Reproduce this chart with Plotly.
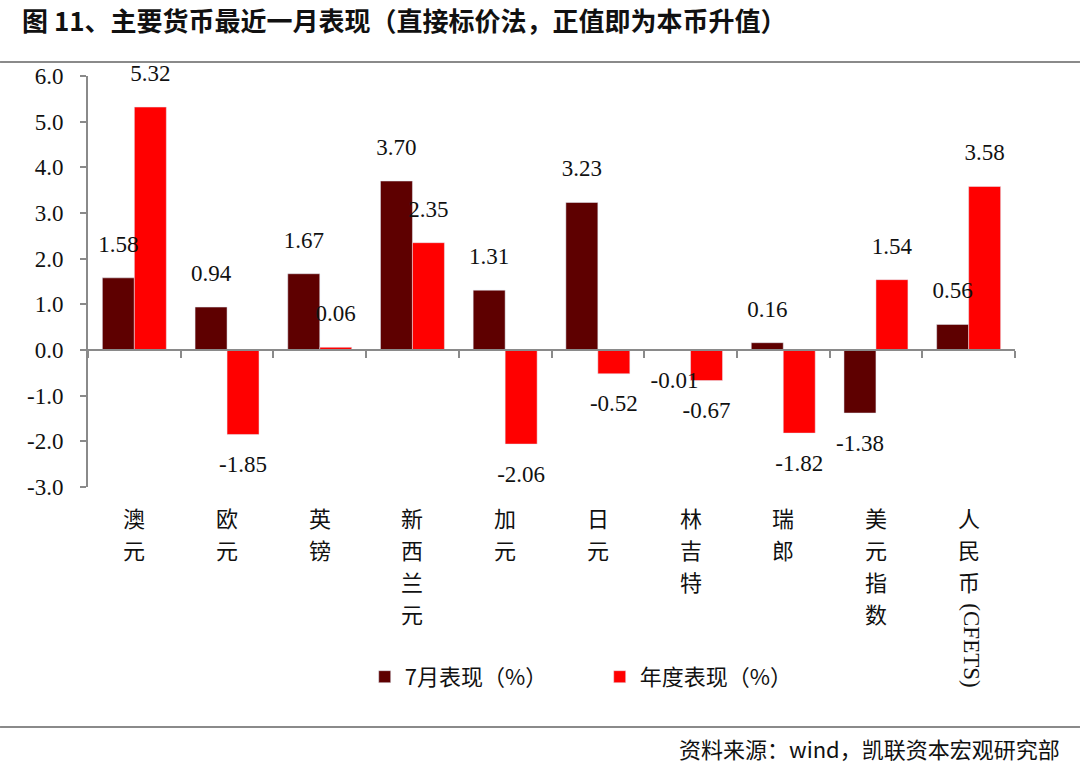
import plotly.graph_objects as go

categories = ["澳元", "欧元", "英镑", "新西兰元", "加元", "日元", "林吉特", "瑞郎", "美元指数", "人民币"]
july_perf = [1.58, 0.94, 1.67, 3.70, 1.31, 3.23, -0.01, 0.16, -1.38, 0.56]
ytd_perf = [5.32, -1.85, 0.06, 2.35, -2.06, -0.52, -0.67, -1.82, 1.54, 3.58]
y_ticks = [-3, -2, -1, 0, 1, 2, 3, 4, 5, 6]

SERIF = "Liberation Serif, Noto Sans CJK SC"
CJK = "Noto Sans CJK SC"
AXIS_GREY = "#8a8a8a"
label_font = dict(family=SERIF, size=23, color="#111")

fig = go.Figure()
fig.add_trace(go.Bar(x=categories, y=july_perf, name="7月表现（%）",
                     marker_color="#5e0000", offsetgroup="m"))
fig.add_trace(go.Bar(x=categories, y=ytd_perf, name="年度表现（%）",
                     marker_color="#ff0000", offsetgroup="y"))
# value labels as grouped text points, drawn over every bar
for vals, grp in [(july_perf, "m"), (ytd_perf, "y")]:
    fig.add_trace(go.Scatter(
        x=categories, y=vals, offsetgroup=grp, showlegend=False, hoverinfo="skip",
        mode="markers+text", marker=dict(size=31, opacity=0),
        text=[f"{v:.2f}" for v in vals],
        textposition=["top center" if v >= 0 else "bottom center" for v in vals],
        textfont=label_font, cliponaxis=False))
# invisible helper so the overlaid zero-line axis gets drawn
fig.add_trace(go.Scatter(x=categories, y=[0] * len(categories), xaxis="x2",
                         mode="markers", marker=dict(opacity=0), showlegend=False,
                         hoverinfo="skip"))

fig.update_layout(
    width=1080, height=764,
    margin=dict(l=88, r=65, t=76, b=277),
    paper_bgcolor="white", plot_bgcolor="white",
    barmode="group", bargap=0.31, bargroupgap=0,
    scattermode="group", scattergap=0.31,
    legend=dict(orientation="h", x=0.552, xanchor="center", y=-0.462, yanchor="middle",
                font=dict(family=CJK, size=22, color="#111"), itemwidth=30,
                entrywidth=190, traceorder="normal"),
    xaxis=dict(showticklabels=False, ticks="", showline=False, showgrid=False, zeroline=False),
    xaxis2=dict(overlaying="x", matches="x", anchor="free", position=1 / 3,
                showticklabels=False, ticks="outside", tickson="boundaries",
                ticklen=7, tickwidth=2, tickcolor=AXIS_GREY,
                showline=True, linecolor=AXIS_GREY, linewidth=2, showgrid=False),
)

fig.update_yaxes(
    range=[-3, 6], tickmode="array", tickvals=y_ticks,
    ticktext=[f"{v:.1f}" for v in y_ticks],
    tickfont=dict(family=SERIF, size=23, color="#111"),
    ticks="outside", ticklen=6, tickwidth=2, tickcolor=AXIS_GREY, ticklabelstandoff=12,
    showline=True, linecolor=AXIS_GREY, linewidth=2,
    showgrid=False, zeroline=False,
)

# category labels, one character per line
for cat in categories:
    for i, ch in enumerate(cat):
        fig.add_annotation(x=cat, y=0, xref="x", yref="paper", text=ch, showarrow=False,
                           yanchor="middle", yshift=-(30 + 32 * i),
                           font=dict(family=CJK, size=22, color="#111"))
fig.add_annotation(x=categories[-1], y=0, xref="x", yref="paper", yshift=-158, xshift=3,
                   text="(CFETS)", textangle=90, showarrow=False, yanchor="middle",
                   font=dict(family="Liberation Serif", size=23, color="#111"))

fig.add_annotation(x=-0.073, y=1.137, xref="paper", yref="paper", xanchor="left", yanchor="middle",
                   text="<b>图 11、主要货币最近一月表现（直接标价法，正值即为本币升值）</b>",
                   showarrow=False, font=dict(family=CJK, size=26, color="#111"))
fig.add_annotation(x=1.0507, y=-0.635, xref="paper", yref="paper", xanchor="right", yanchor="middle",
                   text="资料来源：wind，凯联资本宏观研究部", showarrow=False,
                   font=dict(family=CJK, size=22, color="#111"))

fig.add_shape(type="line", xref="paper", yref="paper", x0=-0.0949, x1=1.0701, y0=1.034, y1=1.034,
              line=dict(color=AXIS_GREY, width=2))
fig.add_shape(type="line", xref="paper", yref="paper", x0=-0.0949, x1=1.0701, y0=-0.584, y1=-0.584,
              line=dict(color=AXIS_GREY, width=2))

fig.write_html("out.html", config={"displayModeBar": False},
               post_script="document.body.style.margin='0';")
